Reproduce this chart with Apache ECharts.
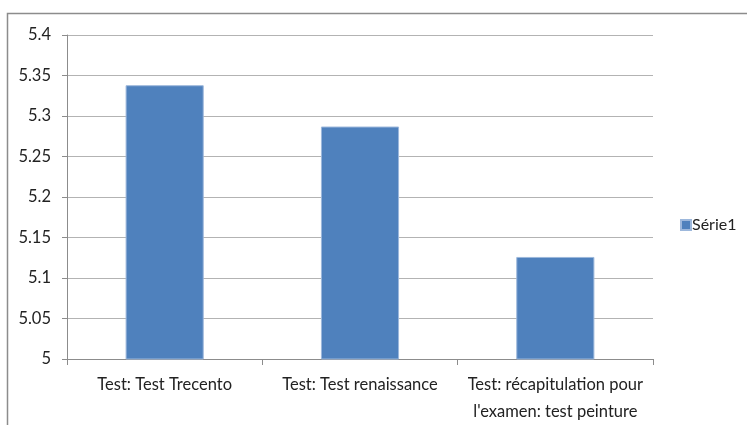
<!DOCTYPE html>
<html>
<head>
<meta charset="utf-8">
<style>
	html, body { margin: 0; padding: 0; background: #fff; }
	#chart { width: 747px; height: 425px; }
</style>
<script src="https://cdn.jsdelivr.net/npm/echarts@6/dist/echarts.min.js"></script>
</head>
<body>
<div id="chart"></div>
<script>
	const categories = ['Test: Test Trecento', 'Test: Test renaissance', 'Test: récapitulation pour\nl\'examen: test peinture']
	const serie1 = [5.338, 5.287, 5.126]
	const yTicks = [5, 5.05, 5.1, 5.15, 5.2, 5.25, 5.3, 5.35, 5.4]

	const font = 'Lato, "Open Sans", sans-serif'
	const chart = echarts.init(document.getElementById('chart'))

	chart.setOption({
		animation: false,
		textStyle: { fontFamily: font },
		graphic: [{
			type: 'rect',
			shape: { x: 7.5, y: 13.5, width: 800, height: 500 },
			style: { fill: 'none', stroke: '#8c8c8c', lineWidth: 1.5 },
			silent: true
		}],
		legend: {
			data: ['Série1'],
			orient: 'vertical',
			left: 675,
			top: 212,
			itemWidth: 10,
			itemHeight: 10,
			itemGap: 4,
			icon: 'rect',
			textStyle: { fontFamily: font, fontSize: 16, color: '#222', padding: [0, 0, 0, -4] }
		},
		grid: {
			left: 67,
			right: 94,
			top: 35,
			bottom: 66
		},
		xAxis: {
			type: 'category',
			data: categories,
			axisLine: { lineStyle: { color: '#8c8c8c' } },
			axisTick: { show: true, length: 6, lineStyle: { color: '#8c8c8c' } },
			axisLabel: { fontSize: 16.5, color: '#222', margin: 12, lineHeight: 27, interval: 0 }
		},
		yAxis: {
			type: 'value',
			min: yTicks[0],
			max: yTicks[yTicks.length - 1],
			interval: 0.05,
			axisLine: { show: true, lineStyle: { color: '#8c8c8c' } },
			axisTick: { show: true, length: 5, lineStyle: { color: '#8c8c8c' } },
			axisLabel: { fontSize: 16.5, color: '#222', margin: 16 },
			splitLine: { lineStyle: { color: '#b3b3b3' } }
		},
		series: [{
			name: 'Série1',
			type: 'bar',
			data: serie1,
			barWidth: '40%',
			itemStyle: { color: '#4f81bd', borderColor: '#9db8dc', borderWidth: 1 }
		}]
	})
</script>
</body>
</html>
